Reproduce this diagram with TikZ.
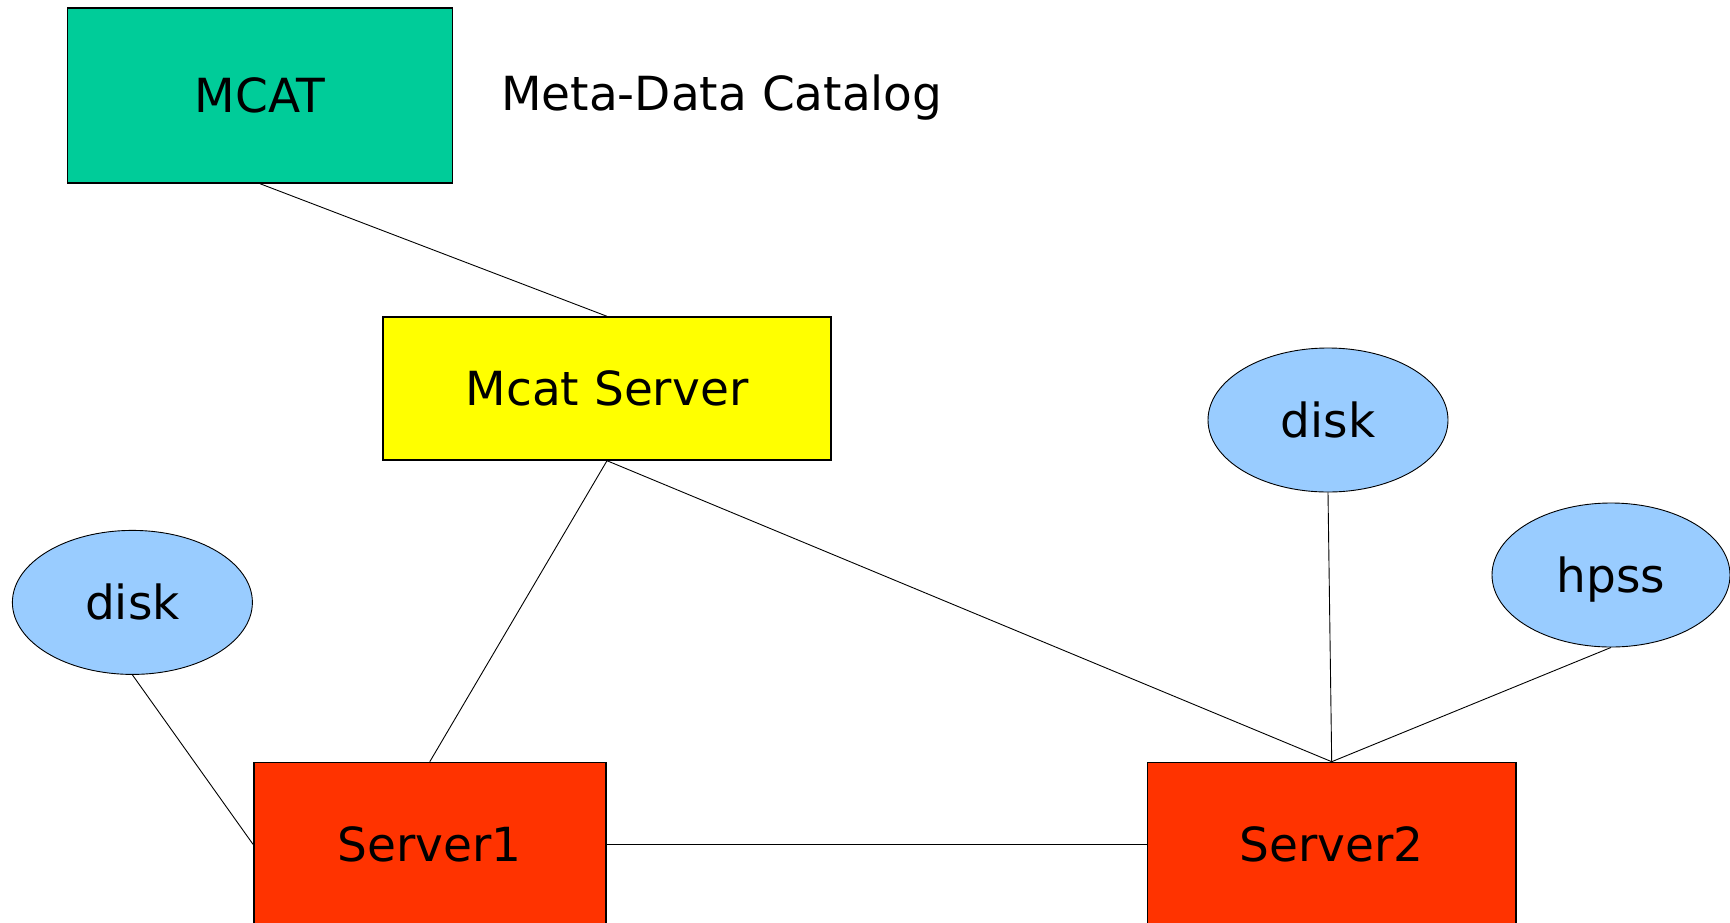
\documentclass[tikz,border=0pt]{standalone}
\usepackage{fontspec}
\setmainfont{DejaVu Sans}
\usetikzlibrary{shapes.geometric}
\definecolor{mcatgreen}{RGB}{0,204,153}
\definecolor{srvred}{RGB}{255,51,0}
\definecolor{diskblue}{RGB}{153,204,255}
\definecolor{srvyellow}{RGB}{255,255,0}
\tikzset{
  lbl/.style={font=\fontsize{47}{55}\selectfont, text height=34.8pt, text depth=0pt, inner sep=0pt},
  boxnode/.style={lbl, draw=black, line width=1.4pt, rectangle},
  ellnode/.style={lbl, draw=black, line width=0.9pt, ellipse, fill=diskblue},
  link/.style={draw=black, line width=0.9pt}
}
\begin{document}
\begin{tikzpicture}[x=1pt,y=-1pt]
\useasboundingbox (0,0) rectangle (1730,922);
\clip (0,0) rectangle (1730,922);
\fill[white] (0,0) rectangle (1730,922);
\node[boxnode, fill=mcatgreen, minimum width=385pt, minimum height=175pt] (mcat) at (260,95.5) {MCAT};
\node[lbl, anchor=base west] (meta) at (501,110) {Meta-Data Catalog};
\node[boxnode, fill=srvyellow, minimum width=448pt, minimum height=143pt] (mserv) at (607,388.5) {Mcat Server};
\node[ellnode, minimum width=240pt, minimum height=144pt] (disk2) at (1328,420) {disk};
\node[ellnode, minimum width=238pt, minimum height=144pt] (hpss) at (1611,575) {hpss};
\node[ellnode, minimum width=240pt, minimum height=144pt] (disk1) at (132.4,602.4) {disk};
\node[boxnode, fill=srvred, minimum width=352pt, minimum height=164pt] (s1) at (429.8,844.4) {Server1};
\node[boxnode, fill=srvred, minimum width=368.6pt, minimum height=164pt] (s2) at (1331.7,844.4) {Server2};
\draw[link] (mcat.south) -- (mserv.north);
\draw[link] (mserv.south) -- (s1.north);
\draw[link] (mserv.south) -- (s2.north);
\draw[link] (disk2.south) -- (s2.north);
\draw[link] (hpss.south) -- (s2.north);
\draw[link] (disk1.south) -- (s1.west);
\draw[link] (s1.east) -- (s2.west);
\end{tikzpicture}
\end{document}
